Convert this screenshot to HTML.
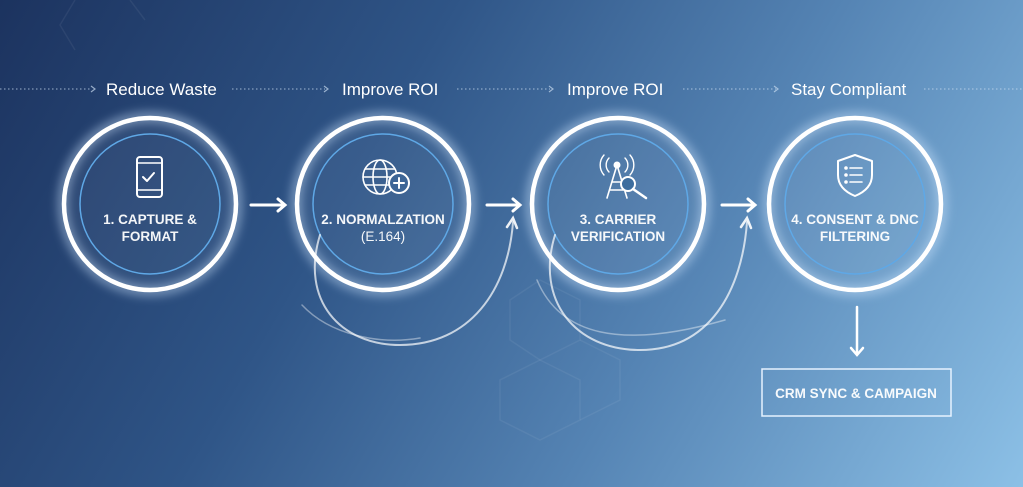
<!DOCTYPE html>
<html><head><style>
html,body{margin:0;padding:0}
body{width:1023px;height:487px;overflow:hidden;background:linear-gradient(120deg,#1c335f 0%,#2f5587 35%,#5584b4 65%,#8cc0e6 100%);font-family:"Liberation Sans",sans-serif;position:relative}
svg{position:absolute;left:0;top:0}
</style></head><body>
<svg width="1023" height="487" viewBox="0 0 1023 487">
<defs>
<filter id="g" x="-30%" y="-30%" width="160%" height="160%"><feGaussianBlur stdDeviation="5"/></filter>
</defs>
<g stroke="#ffffff" stroke-opacity="0.06" fill="none" stroke-width="1.5">
<path d="M75,0 L60,25 L75,50 M130,0 L145,20"/>
<path d="M510,300 L540,280 L580,300 L580,340 L540,360 L510,340 Z"/>
<path d="M540,360 L580,380 L580,420 L540,440 L500,420 L500,380 Z"/>
<path d="M580,340 L620,360 L620,400 L580,420"/>
</g>
<g stroke="#c9dcf0" stroke-opacity="0.6" stroke-width="1.2" stroke-dasharray="1.5 2.5" fill="none">
<line x1="0" y1="89" x2="92" y2="89"/><line x1="232" y1="89" x2="325" y2="89"/>
<line x1="457" y1="89" x2="550" y2="89"/><line x1="683" y1="89" x2="776" y2="89"/>
<line x1="924" y1="89" x2="1023" y2="89"/>
</g>
<g stroke="#c9dcf0" stroke-opacity="0.7" stroke-width="1.2" fill="none">
<path d="M91,86 l4,3 l-4,3"/><path d="M324,86 l4,3 l-4,3"/><path d="M549,86 l4,3 l-4,3"/><path d="M774,86 l4,3 l-4,3"/>
</g>
<g fill="#fff" font-size="17">
<text x="106" y="95">Reduce Waste</text>
<text x="342" y="95">Improve ROI</text>
<text x="567" y="95">Improve ROI</text>
<text x="791" y="95">Stay Compliant</text>
</g>
<g fill="none">
<circle cx="150" cy="204" r="87" stroke="#cfe6ff" stroke-width="10" opacity="0.5" filter="url(#g)"/>
<circle cx="383" cy="204" r="87" stroke="#cfe6ff" stroke-width="10" opacity="0.5" filter="url(#g)"/>
<circle cx="618" cy="204" r="87" stroke="#cfe6ff" stroke-width="10" opacity="0.5" filter="url(#g)"/>
<circle cx="855" cy="204" r="87" stroke="#cfe6ff" stroke-width="10" opacity="0.5" filter="url(#g)"/>
</g>
<g fill="#ffffff" fill-opacity="0.05" stroke="#fff" stroke-width="4.5">
<circle cx="150" cy="204" r="86"/><circle cx="383" cy="204" r="86"/><circle cx="618" cy="204" r="86"/><circle cx="855" cy="204" r="86"/>
</g>
<g fill="none" stroke="#5fa8e6" stroke-width="1.5">
<circle cx="150" cy="204" r="70"/><circle cx="383" cy="204" r="70"/><circle cx="618" cy="204" r="70"/><circle cx="855" cy="204" r="70"/>
</g>
<g fill="none" stroke="#fff" stroke-width="2" stroke-linecap="round" stroke-linejoin="round">
<rect x="137" y="157" width="25" height="40" rx="3"/><line x1="137" y1="163" x2="162" y2="163" stroke-width="1.4"/><line x1="137" y1="190" x2="162" y2="190" stroke-width="1.4"/><path d="M143,177 l4,4 l7,-8"/>
<circle cx="380" cy="177" r="17" stroke-width="1.6"/><ellipse cx="380" cy="177" rx="7" ry="17" stroke-width="1.6"/><line x1="363" y1="177" x2="397" y2="177" stroke-width="1.6"/><line x1="365" y1="169" x2="395" y2="169" stroke-width="1.6"/><line x1="365" y1="185" x2="395" y2="185" stroke-width="1.6"/>
<circle cx="399" cy="183" r="10" fill="#3d6596"/><line x1="399" y1="178" x2="399" y2="188"/><line x1="394" y1="183" x2="404" y2="183"/>
<path d="M607,198 L617,165 L627,198 M610,190 L624,190 M612,182 L622,182" stroke-width="1.6"/><circle cx="617" cy="165" r="2.5" fill="#fff"/>
<path d="M609,158 a10,10 0 0 0 0,14 M625,158 a10,10 0 0 1 0,14 M604,155 a15,15 0 0 0 0,20 M630,155 a15,15 0 0 1 0,20" stroke-width="1.4"/>
<circle cx="628" cy="184" r="7" fill="#3d6d9e"/><line x1="633" y1="189" x2="646" y2="198" stroke-width="2.5"/>
<path d="M855,155 l17,6 v14 q0,14 -17,21 q-17,-7 -17,-21 v-14 z"/>
<line x1="850" y1="168" x2="862" y2="168" stroke-width="1.6"/><line x1="850" y1="175" x2="862" y2="175" stroke-width="1.6"/><line x1="850" y1="182" x2="862" y2="182" stroke-width="1.6"/>
<circle cx="846" cy="168" r="0.8" fill="#fff"/><circle cx="846" cy="175" r="0.8" fill="#fff"/><circle cx="846" cy="182" r="0.8" fill="#fff"/>
</g>
<g fill="#fff" font-size="13.5" text-anchor="middle" font-weight="bold" opacity="0.95">
<text x="150" y="224">1. CAPTURE &amp;</text><text x="150" y="241">FORMAT</text>
<text x="383" y="224">2. NORMALZATION</text><text x="383" y="241" font-weight="normal">(E.164)</text>
<text x="618" y="224">3. CARRIER</text><text x="618" y="241">VERIFICATION</text>
<text x="855" y="224">4. CONSENT &amp; DNC</text><text x="855" y="241">FILTERING</text>
</g>
<g stroke="#fff" stroke-width="3" fill="none" stroke-linecap="round">
<line x1="251" y1="205" x2="284" y2="205"/><path d="M278,199 l7,6 l-7,6"/>
<line x1="487" y1="205" x2="519" y2="205"/><path d="M513,199 l7,6 l-7,6"/>
<line x1="722" y1="205" x2="754" y2="205"/><path d="M748,199 l7,6 l-7,6"/>
<line x1="857" y1="307" x2="857" y2="354" stroke-width="2.5"/><path d="M851,348 l6,7 l6,-7" stroke-width="2.5"/>
</g>
<g fill="none" stroke="#fff" stroke-linecap="round">
<path d="M320,235 C300,300 340,345 400,345 C470,345 508,290 513,222" stroke-width="2" stroke-opacity="0.7"/>
<path d="M302,305 C330,335 380,345 420,338" stroke-width="1.5" stroke-opacity="0.4"/>
<path d="M507,227 l6,-9 l4,10" stroke-width="2.5" stroke-opacity="0.9"/>
<path d="M555,235 C535,300 575,350 640,350 C710,350 742,290 747,222" stroke-width="2" stroke-opacity="0.7"/>
<path d="M537,280 C560,335 620,350 725,320" stroke-width="1.5" stroke-opacity="0.4"/>
<path d="M741,227 l6,-9 l4,10" stroke-width="2.5" stroke-opacity="0.9"/>
</g>
<rect x="762" y="369" width="189" height="47" fill="none" stroke="#e6f2ff" stroke-width="1.5"/>
<text x="856" y="398" fill="#fff" font-size="13.5" text-anchor="middle" font-weight="bold" opacity="0.95">CRM SYNC &amp; CAMPAIGN</text>
</svg>
</body></html>
